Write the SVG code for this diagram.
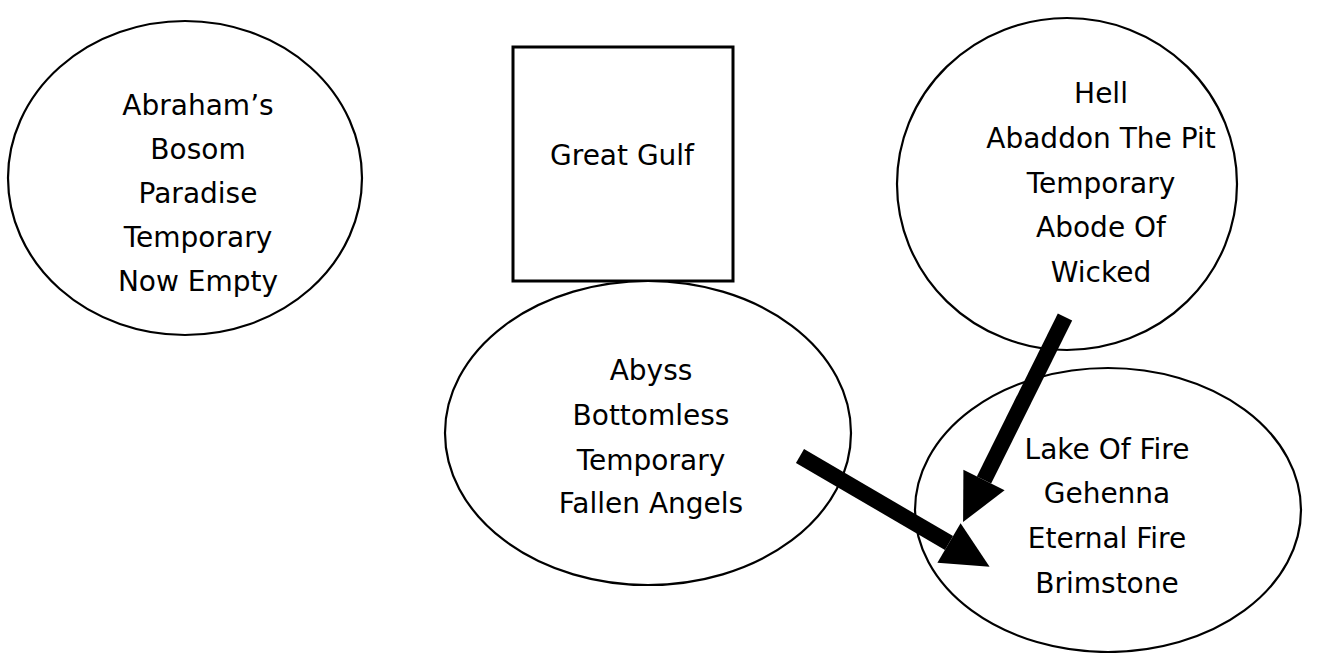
<svg xmlns="http://www.w3.org/2000/svg" width="1336" height="653" viewBox="0 0 1336 653">
<style>
.shape{fill:#fff;stroke:#000;stroke-width:2.2}
.box{fill:#fff;stroke:#000;stroke-width:3}
.lbl{font-family:"DejaVu Sans","Liberation Sans",sans-serif;font-size:28px;fill:#000;text-anchor:middle}
.arrow{stroke:#000;stroke-width:16;fill:none;marker-end:url(#head)}
</style>
<defs>
<marker id="head" markerUnits="userSpaceOnUse" markerWidth="48" markerHeight="46" refX="0" refY="23" orient="auto" overflow="visible">
<path d="M0,0 L47,23 L0,46 z" fill="#000"/>
</marker>
</defs>
<rect width="1336" height="653" fill="#fff"/>
<g id="abraham">
<ellipse class="shape" cx="185" cy="178" rx="177" ry="157"/>
<text class="lbl" x="198" y="115">Abraham’s</text>
<text class="lbl" x="198" y="159">Bosom</text>
<text class="lbl" x="198" y="203">Paradise</text>
<text class="lbl" x="198" y="247">Temporary</text>
<text class="lbl" x="198" y="291">Now Empty</text>
</g>
<g id="gulf">
<rect class="box" x="513" y="47" width="220" height="234"/>
<text class="lbl" x="622" y="165">Great Gulf</text>
</g>
<g id="hell">
<ellipse class="shape" cx="1067" cy="184" rx="170" ry="166"/>
<text class="lbl" x="1101" y="103">Hell</text>
<text class="lbl" x="1101" y="148">Abaddon The Pit</text>
<text class="lbl" x="1101" y="193">Temporary</text>
<text class="lbl" x="1101" y="237">Abode Of</text>
<text class="lbl" x="1101" y="282">Wicked</text>
</g>
<g id="abyss">
<ellipse class="shape" cx="648" cy="433" rx="203" ry="152"/>
<text class="lbl" x="651" y="380">Abyss</text>
<text class="lbl" x="651" y="425">Bottomless</text>
<text class="lbl" x="651" y="470">Temporary</text>
<text class="lbl" x="651" y="513">Fallen Angels</text>
</g>
<g id="lake">
<ellipse class="shape" cx="1108" cy="510" rx="193" ry="142"/>
<text class="lbl" x="1107" y="459">Lake Of Fire</text>
<text class="lbl" x="1107" y="503">Gehenna</text>
<text class="lbl" x="1107" y="548">Eternal Fire</text>
<text class="lbl" x="1107" y="593">Brimstone</text>
</g>
<g id="connectors">
<line class="arrow" x1="1065" y1="317" x2="984" y2="480"/>
<line class="arrow" x1="800" y1="456" x2="949" y2="543"/>
</g>
</svg>
